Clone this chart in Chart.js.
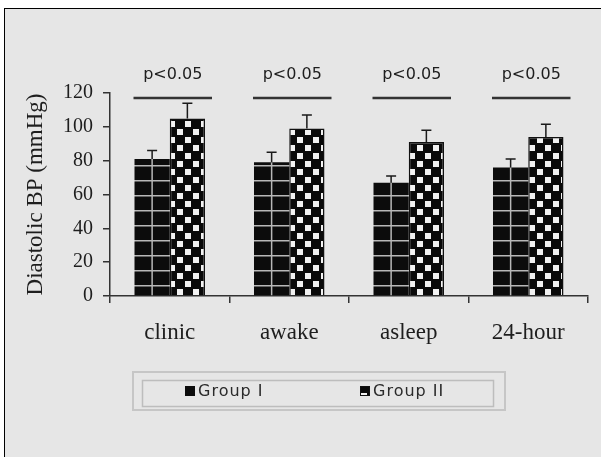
<!DOCTYPE html>
<html><head><meta charset="utf-8">
<script src="https://cdn.jsdelivr.net/npm/chart.js@4"></script>
<style>
html,body{margin:0;padding:0;background:#fff;width:601px;height:457px;overflow:hidden;}
#frame{position:absolute;left:4px;top:8px;width:597px;height:449px;border-left:1.5px solid #000;border-top:1.5px solid #000;background:#e6e6e6;box-sizing:border-box;}
#c{position:absolute;left:0;top:0;width:601px;height:457px;}
</style></head><body>
<div id="frame"></div>
<canvas id="c" width="601" height="457"></canvas>
<script>
const categories = ["clinic", "awake", "asleep", "24-hour"];
const seriesNames = ["Group I", "Group II"];
const group1 = [81, 79, 67, 76];
const group1Err = [5, 6, 4, 5];
const group2 = [105, 99, 91, 94];
const group2Err = [9, 8, 7, 7.5];
const pLabels = ["p<0.05", "p<0.05", "p<0.05", "p<0.05"];
const yTickValues = [0, 20, 40, 60, 80, 100, 120];
const yTitle = "Diastolic BP (mmHg)";

function makePattern1() {
  const c = document.createElement('canvas'); c.width = 8; c.height = 15;
  const g = c.getContext('2d');
  g.fillStyle = '#0c0c0c'; g.fillRect(0, 0, 8, 15);
  g.fillStyle = '#b8b8b8'; g.fillRect(0, 0, 8, 1.5);
  return g.createPattern(c, 'repeat');
}
function makePattern2() {
  const c = document.createElement('canvas'); c.width = 16; c.height = 16;
  const g = c.getContext('2d');
  g.fillStyle = '#0a0a0a'; g.fillRect(0, 0, 16, 16);
  g.fillStyle = '#f2f2f2';
  g.fillRect(1, 1, 6, 6); g.fillRect(9, 9, 6, 6);
  return g.createPattern(c, 'repeat');
}
const ctxMain = document.getElementById('c').getContext('2d');
const pat1 = makePattern1();
const pat2 = makePattern2();

const errorBarsPlugin = {
  id: 'errbars',
  afterDatasetsDraw(chart) {
    const ctx = chart.ctx, y = chart.scales.y;
    const errs = [group1Err, group2Err];
    chart.data.datasets.forEach((ds, i) => {
      const meta = chart.getDatasetMeta(i);
      meta.data.forEach((bar, j) => {
        const top = y.getPixelForValue(ds.data[j] + errs[i][j]);
        ctx.save();
        if (i === 0) {
          ctx.strokeStyle = '#b8b8b8'; ctx.lineWidth = 1.5;
          ctx.beginPath(); ctx.moveTo(bar.x, bar.base); ctx.lineTo(bar.x, bar.y); ctx.stroke();
        }
        ctx.strokeStyle = '#1a1a1a'; ctx.lineWidth = 1.5;
        ctx.beginPath();
        ctx.moveTo(bar.x, bar.y); ctx.lineTo(bar.x, top);
        ctx.moveTo(bar.x - 5, top); ctx.lineTo(bar.x + 5, top);
        ctx.stroke();
        ctx.restore();
      });
    });
  }
};

const annotPlugin = {
  id: 'annot',
  afterDraw(chart) {
    const ctx = chart.ctx, y = chart.scales.y;
    const m0 = chart.getDatasetMeta(0), m1 = chart.getDatasetMeta(1);
    ctx.save();
    categories.forEach((c, j) => {
      const b0 = m0.data[j], b1 = m1.data[j];
      const x0 = b0.x - b0.width / 2 - 1, x1 = b1.x + b1.width / 2 + 7;
      const ly = y.getPixelForValue(117);
      ctx.strokeStyle = '#333'; ctx.lineWidth = 2.5;
      ctx.beginPath(); ctx.moveTo(x0, ly); ctx.lineTo(x1, ly); ctx.stroke();
      ctx.fillStyle = '#1e1e1e';
      ctx.font = '16px "DejaVu Sans"';
      ctx.textAlign = 'center'; ctx.textBaseline = 'middle';
      ctx.fillText(pLabels[j], (x0 + x1) / 2, y.getPixelForValue(130.5));
    });
    // legend
    ctx.strokeStyle = '#c6c6c6'; ctx.lineWidth = 2;
    ctx.strokeRect(133, 372, 372, 38);
    ctx.strokeStyle = '#bdbdbd'; ctx.lineWidth = 1.5;
    ctx.strokeRect(142.5, 380.5, 351, 26);
    ctx.fillStyle = '#0c0c0c'; ctx.fillRect(185, 386, 10, 10);
    ctx.fillStyle = pat2; ctx.fillRect(360, 386, 10, 10);
    ctx.strokeStyle = '#111'; ctx.lineWidth = 1; ctx.strokeRect(360.5, 386.5, 9, 9);
    ctx.fillStyle = '#2a2a2a';
    ctx.font = '16px "DejaVu Sans"';
    ctx.textAlign = 'left'; ctx.textBaseline = 'middle';
    try { ctx.letterSpacing = '1px'; } catch (e) {}
    ctx.fillText(seriesNames[0], 198, 392);
    ctx.fillText(seriesNames[1], 373, 392);
    ctx.restore();
  }
};

new Chart(ctxMain, {
  type: 'bar',
  data: {
    labels: categories,
    datasets: [
      { label: seriesNames[0], data: group1, backgroundColor: pat1, borderWidth: 0,
        categoryPercentage: 0.59, barPercentage: 1.0 },
      { label: seriesNames[1], data: group2, backgroundColor: pat2, borderColor: '#111', borderWidth: 1.5,
        categoryPercentage: 0.59, barPercentage: 1.0 }
    ]
  },
  options: {
    responsive: false,
    animation: false,
    devicePixelRatio: 1,
    layout: { padding: { top: 93, right: 13, left: 0, bottom: 0 } },
    plugins: { legend: { display: false }, tooltip: { enabled: false } },
    scales: {
      x: {
        offset: true,
        grid: { offset: true, drawOnChartArea: false, drawTicks: true, tickLength: 7, color: '#333', lineWidth: 1.5 },
        border: { display: true, color: '#333', width: 1.5 },
        ticks: { font: { family: 'Liberation Serif', size: 23 }, color: '#1e1e1e', padding: 16 },
        afterFit(s) { s.height = 161; }
      },
      y: {
        min: 0, max: 120,
        afterBuildTicks(s) { s.ticks = yTickValues.map(v => ({ value: v })); },
        ticks: { font: { family: 'Liberation Serif', size: 20 }, color: '#1e1e1e', padding: 10 },
        grid: { drawOnChartArea: false, tickLength: 7, color: '#333', lineWidth: 1.5 },
        border: { display: true, color: '#333', width: 1.5 },
        title: { display: true, text: yTitle, font: { family: 'Liberation Serif', size: 23 }, color: '#1e1e1e',
                 padding: { top: 22, bottom: 0 } },
        afterFit(s) { s.width = 110; }
      }
    }
  },
  plugins: [errorBarsPlugin, annotPlugin]
});
</script>
</body></html>
